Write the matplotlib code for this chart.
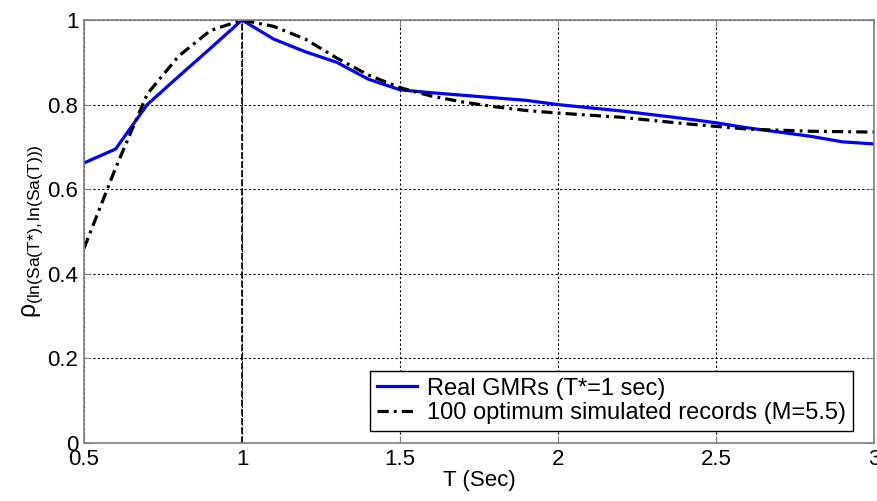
import numpy as np
import matplotlib
matplotlib.use('Agg')
import matplotlib.pyplot as plt

plt.rcParams['font.family'] = ['Liberation Sans', 'DejaVu Sans']
plt.rcParams['mathtext.fontset'] = 'custom'
plt.rcParams['mathtext.rm'] = 'Liberation Sans'
plt.rcParams['mathtext.it'] = 'Liberation Sans'
plt.rcParams['font.size'] = 16

# period values (sec)
T_real = [0.5, 0.6, 0.7, 0.8, 0.9, 1.0, 1.1, 1.2, 1.3, 1.4, 1.5, 1.6, 1.7, 1.8,
          1.9, 2.0, 2.2, 2.4, 2.5, 2.6, 2.8, 2.9, 3.0]
rho_real = [0.662, 0.695, 0.80, 0.867, 0.933, 1.0, 0.955, 0.925, 0.90, 0.86,
            0.835, 0.828, 0.822, 0.816, 0.81, 0.80, 0.785, 0.767, 0.757,
            0.745, 0.725, 0.712, 0.707]

T_sim = [0.5, 0.6, 0.7, 0.8, 0.9, 1.0, 1.1, 1.2, 1.3, 1.4, 1.5, 1.6, 1.7, 1.8,
         1.9, 2.0, 2.2, 2.4, 2.6, 2.8, 3.0]
rho_sim = [0.46, 0.65, 0.825, 0.915, 0.975, 1.0, 0.985, 0.955, 0.91, 0.87,
           0.84, 0.82, 0.806, 0.795, 0.786, 0.78, 0.77, 0.755, 0.742, 0.737,
           0.735]

t_star = 1.0  # conditioning period

fig = plt.figure(figsize=(8.78, 5.01), dpi=100)
ax = fig.add_axes([84/878, 1-443/501, 790/878, 423/501])

ax.plot([t_star, t_star], [0, 1], color='k', lw=1.2, ls=(0, (4, 1.5)))
ax.plot(T_real, rho_real, color='#0000ff', lw=2.3, label='Real GMRs (T*=1 sec)')
ax.plot(T_sim, rho_sim, color='k', lw=2.3, ls=(0, (3.5, 1.6, 0.9, 1.6)),
        label='100 optimum simulated records (M=5.5)')

ax.set_xlim(0.5, 3)
ax.set_ylim(0, 1)
ax.set_xticks([0.5, 1, 1.5, 2, 2.5, 3])
ax.set_xticklabels(['0.5', '1', '1.5', '2', '2.5', '3'])
ax.set_yticks([0, 0.2, 0.4, 0.6, 0.8, 1])
ax.set_yticklabels(['0', '0.2', '0.4', '0.6', '0.8', '1'])
ax.grid(True, color='k', lw=0.8, ls=(0, (2, 2)))
ax.tick_params(direction='in', length=5, color='#808080', top=True, right=True,
               pad=4)
for s in ax.spines.values():
    s.set_color('#808080')
    s.set_linewidth(1.2)

ax.set_xlabel('T (Sec)', labelpad=0)
ax.set_ylabel(r'$\rho_{\mathrm{(ln(Sa(T{*}),ln(Sa(T)))}}$', fontsize=18,
              labelpad=2)

leg = ax.legend(loc='lower right', bbox_to_anchor=(0.973, 0.028),
                borderaxespad=0, fancybox=False, framealpha=1,
                handlelength=1.7, handletextpad=0.4, borderpad=0.3,
                labelspacing=0.1, fontsize=17)
leg.get_frame().set_edgecolor('k')
leg.get_frame().set_linewidth(1.0)

fig.savefig('out.png', dpi=100)
